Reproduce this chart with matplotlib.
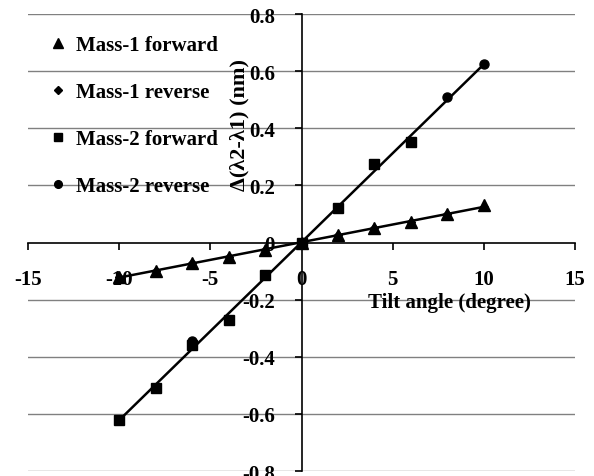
import numpy as np
import matplotlib.pyplot as plt

# tilt angles (degree)
angles = [-10, -8, -6, -4, -2, 0, 2, 4, 6, 8, 10]

# wavelength shift (nm); nan = no point recorded
mass1_fwd = [-0.12, -0.10, -0.072, -0.05, -0.025, 0.0, 0.028, 0.052, 0.071, 0.10, 0.13]
mass1_rev = [-0.12, -0.10, -0.072, -0.05, -0.025, 0.0, 0.028, 0.052, 0.071, 0.10, 0.125]
mass2_fwd = [-0.62, -0.508, -0.358, -0.27, -0.115, 0.0, 0.12, 0.274, 0.352, np.nan, np.nan]
mass2_rev = [-0.62, -0.508, -0.345, -0.27, -0.115, 0.0, 0.12, 0.274, 0.352, 0.51, 0.625]

plt.rcParams["font.family"] = ["Liberation Serif", "DejaVu Serif"]
plt.rcParams["font.weight"] = "bold"
plt.rcParams["axes.unicode_minus"] = False

fs = 15

fig = plt.figure(figsize=(5.94, 4.77), dpi=100)
ax = fig.add_axes([28 / 594, 1 - 472 / 477, (575 - 28) / 594, (472 - 15) / 477])

ax.set_xlim(-15, 15)
ax.set_ylim(-0.8, 0.8)
ax.set_xticks(np.arange(-15, 16, 5))
ax.set_yticks(np.arange(-0.8, 0.81, 0.2))
ax.set_yticklabels(["-0.8", "-0.6", "-0.4", "-0.2", "0", "0.2", "0.4", "0.6", "0.8"])

for y in ax.get_yticks():
    if abs(y) > 1e-9:
        ax.axhline(y, color="#808080", lw=1.0, zorder=0)

ax.spines["left"].set_position(("data", 0))
ax.spines["bottom"].set_position(("data", 0))
ax.spines["top"].set_visible(False)
ax.spines["right"].set_visible(False)
for s in ("left", "bottom"):
    ax.spines[s].set_linewidth(1.2)
ax.tick_params(axis="both", direction="out", length=5, width=1.2, labelsize=fs)
ax.tick_params(axis="x", pad=14)
ax.tick_params(axis="y", pad=14)

# trendlines
x = np.array(angles, dtype=float)
for f, r in ((mass1_fwd, mass1_rev), (mass2_fwd, mass2_rev)):
    xs = np.concatenate([x, x])
    ys = np.array(f + r, dtype=float)
    ok = ~np.isnan(ys)
    c = np.polyfit(xs[ok], ys[ok], 1)
    ax.plot(x, np.polyval(c, x), color="black", lw=1.8, zorder=2)

ax.plot(angles, mass1_fwd, "^", color="black", ms=8, ls="none", label="Mass-1 forward", zorder=3)
ax.plot(angles, mass1_rev, "D", color="black", ms=4.5, ls="none", label="Mass-1 reverse", zorder=3)
ax.plot(angles, mass2_fwd, "s", color="black", ms=6.5, ls="none", label="Mass-2 forward", zorder=3)
ax.plot(angles, mass2_rev, "o", color="black", ms=6.5, ls="none", label="Mass-2 reverse", zorder=3)

ax.legend(loc="upper left", bbox_to_anchor=(52 / 594, 1 - 36 / 477),
          bbox_transform=fig.transFigure, frameon=False, fontsize=fs,
          labelspacing=1.3, handlelength=0.6, handletextpad=0.56,
          borderpad=0, borderaxespad=0, markerscale=0.85)

ax.text(-3.4, 0.415, "\u0394(\u03bb2-\u03bb1) (nm)", rotation=90, ha="center", va="center",
        fontsize=16, fontweight="bold")
ax.text(8.1, -0.21, "Tilt angle (degree)", ha="center", va="center",
        fontsize=fs, fontweight="bold")

fig.savefig("out.png", dpi=100)
